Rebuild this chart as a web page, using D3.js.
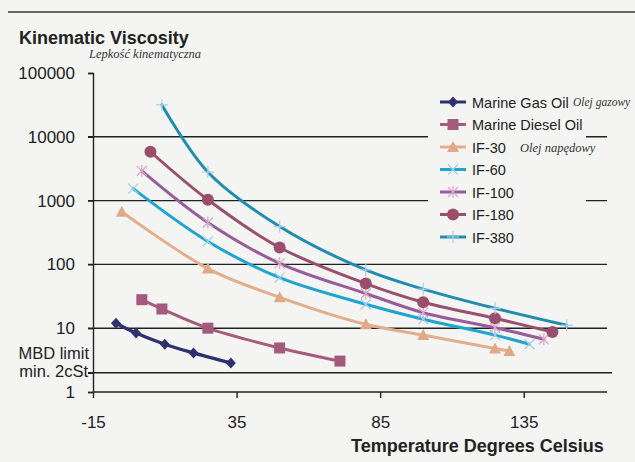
<!DOCTYPE html>
<html><head><meta charset="utf-8">
<script src="https://cdn.jsdelivr.net/npm/d3@7"></script>
<style>
html,body{margin:0;padding:0;background:#f4f5f2;}
svg{display:block;}
text{font-family:"Liberation Sans",Arial,sans-serif;fill:#222;}
.it{font-family:"Liberation Serif","Times New Roman",serif;font-style:italic;fill:#333;}
</style></head>
<body>
<svg id="c" width="635" height="462"></svg>
<script>
// ---- data ----
const seriesNames = ["Marine Gas Oil","Marine Diesel Oil","IF-30","IF-60","IF-100","IF-180","IF-380"];
const mgoX = [-7, 0, 10, 20, 33];
const mgoY = [12, 8.4, 5.6, 4.1, 2.85];
const mdoX = [2, 9, 25, 50, 71];
const mdoY = [28, 20, 10, 4.9, 3.05];
const if30X = [-5, 25, 50, 80, 100, 125, 130];
const if30Y = [670, 86, 30.5, 11.5, 7.8, 4.8, 4.4];
const if60X = [-1, 25, 50, 80, 100, 125, 137];
const if60Y = [1540, 229, 62, 23.7, 13.8, 7.8, 5.6];
const if100X = [2, 25, 50, 80, 100, 125, 142];
const if100Y = [2930, 453, 104, 35, 17.5, 10.2, 6.7];
const if180X = [5, 25, 50, 80, 100, 125, 145];
const if180Y = [5830, 1030, 184, 50, 25.5, 14.3, 8.7];
const if380X = [9, 25, 50, 80, 100, 125, 150];
const if380Y = [31600, 2800, 392, 82, 41, 20.5, 11.1];
const xTicks = [-15, 35, 85, 135];
const yTicks = [1, 10, 100, 1000, 10000, 100000];
const mbdLimit = 2;

const seriesX = [mgoX, mdoX, if30X, if60X, if100X, if180X, if380X];
const seriesY = [mgoY, mdoY, if30Y, if60Y, if100Y, if180Y, if380Y];
const colors = ["#2e3070","#a65a7c","#e2ae8c","#1ea4cf","#985c9c","#98506e","#1f8cb0"];
const markerColors = ["#2e3070","#a45a7c","#e0aa88","#9fd0ea","#d8a6c8","#9a4e6c","#a4d2ea"];
const markerTypes = ["diamond","square","triangle","x","star","circle","plus"];

const svg = d3.select("#c");
const x = d3.scaleLinear().domain([-15, 164]).range([93, 607]);
const y = d3.scaleLog().domain([1, 100000]).range([392, 73]);

// top decorative rule
svg.append("line").attr("x1",8).attr("x2",635).attr("y1",12).attr("y2",12)
  .attr("stroke","#2f3a38").attr("stroke-width",1.6);

// gridlines
const grid = svg.append("g");
[10,100,1000,10000].forEach(v=>{
  grid.append("line").attr("x1",88).attr("x2",607).attr("y1",y(v)).attr("y2",y(v))
    .attr("stroke","#1e2220").attr("stroke-width",1.4);
});
grid.append("line").attr("x1",88).attr("x2",612).attr("y1",y(mbdLimit)).attr("y2",y(mbdLimit))
  .attr("stroke","#1e2220").attr("stroke-width",1.6);
grid.append("line").attr("x1",93).attr("x2",607).attr("y1",y(1)).attr("y2",y(1))
  .attr("stroke","#1e2220").attr("stroke-width",1.4);

// axes
const yAxis = d3.axisLeft(y).tickValues(yTicks.concat([mbdLimit])).tickSize(5).tickPadding(13)
  .tickFormat(d => d === mbdLimit ? "" : String(d));
const gy = svg.append("g").attr("transform","translate(93,0)").call(yAxis);
gy.select(".domain").attr("stroke","#222").attr("stroke-width",1.4);
gy.selectAll(".tick line").attr("stroke","#222").attr("stroke-width",1.4);
gy.selectAll("text").attr("font-size",17).attr("fill","#222")
  .attr("font-family",'"Liberation Sans",Arial,sans-serif');

const xAxis = d3.axisBottom(x).tickValues(xTicks).tickSize(6).tickPadding(18).tickFormat(d=>String(d));
const gx = svg.append("g").attr("transform","translate(0,392)").call(xAxis);
gx.select(".domain").remove();
gx.selectAll(".tick line").attr("stroke","#222").attr("stroke-width",1.4);
gx.selectAll("text").attr("font-size",17).attr("fill","#222")
  .attr("font-family",'"Liberation Sans",Arial,sans-serif');

// MBD label
svg.append("text").attr("x",89).attr("y",y(mbdLimit)-13.5).attr("text-anchor","end")
  .attr("font-size",16.5).text("MBD limit");
svg.append("text").attr("x",88).attr("y",y(mbdLimit)+4).attr("text-anchor","end")
  .attr("font-size",16.5).text("min. 2cSt");

// titles
svg.append("text").attr("x",19).attr("y",44).attr("font-size",18).attr("font-weight","bold")
  .attr("fill","#2a2e33").text("Kinematic Viscosity");
svg.append("text").attr("class","it").attr("x",89).attr("y",58).attr("font-size",12.5)
  .text("Lepkość kinematyczna");
svg.append("text").attr("x",351).attr("y",452).attr("font-size",18).attr("font-weight","bold")
  .attr("fill","#2a2e33").text("Temperature Degrees Celsius");

// marker drawing
function marker(g, type, cx, cy, col){
  const s = 5;
  if(type==="diamond"){
    g.append("path").attr("d",`M${cx},${cy-5.5}L${cx+5},${cy}L${cx},${cy+5.5}L${cx-5},${cy}Z`).attr("fill",col);
  } else if(type==="square"){
    g.append("rect").attr("x",cx-5.5).attr("y",cy-5.5).attr("width",11).attr("height",11).attr("fill",col);
  } else if(type==="triangle"){
    g.append("path").attr("d",`M${cx},${cy-6}L${cx+6},${cy+5}L${cx-6},${cy+5}Z`).attr("fill",col);
  } else if(type==="circle"){
    g.append("circle").attr("cx",cx).attr("cy",cy).attr("r",6).attr("fill",col);
  } else if(type==="x"){
    g.append("path").attr("d",`M${cx-s},${cy-s}L${cx+s},${cy+s}M${cx-s},${cy+s}L${cx+s},${cy-s}`)
      .attr("stroke",col).attr("stroke-width",1.2).attr("fill","none");
  } else if(type==="star"){
    g.append("path").attr("d",`M${cx-s},${cy-s}L${cx+s},${cy+s}M${cx-s},${cy+s}L${cx+s},${cy-s}M${cx},${cy-s-1}L${cx},${cy+s+1}`)
      .attr("stroke",col).attr("stroke-width",1.2).attr("fill","none");
  } else if(type==="plus"){
    g.append("path").attr("d",`M${cx-s-1},${cy}L${cx+s+1},${cy}M${cx},${cy-s-1}L${cx},${cy+s+1}`)
      .attr("stroke",col).attr("stroke-width",1.2).attr("fill","none");
  }
}

// series
const line = d3.line().x(d=>x(d[0])).y(d=>y(d[1])).curve(d3.curveCatmullRom.alpha(0.5));
const order = [2,3,4,5,6,1,0];
order.forEach(i=>{
  const pts = seriesX[i].map((v,k)=>[v, seriesY[i][k]]);
  const g = svg.append("g");
  g.append("path").attr("d", line(pts)).attr("fill","none").attr("stroke",colors[i])
    .attr("stroke-width", i===0 ? 3.4 : 3).attr("stroke-linecap","round").attr("stroke-linejoin","round");
  pts.forEach(p=>marker(g, markerTypes[i], x(p[0]), y(p[1]), markerColors[i]));
});

// legend
const lg = svg.append("g");
lg.append("rect").attr("x",428).attr("y",88).attr("width",158).attr("height",162).attr("fill","#f4f5f2");
seriesNames.forEach((n,i)=>{
  const cy = 102 + i*22.5;
  lg.append("line").attr("x1",440).attr("x2",466).attr("y1",cy).attr("y2",cy)
    .attr("stroke",colors[i]).attr("stroke-width",3);
  marker(lg, markerTypes[i], 453, cy, markerColors[i]);
  lg.append("text").attr("x",472).attr("y",cy+5.5).attr("font-size",14.5).text(n);
});
svg.append("text").attr("class","it").attr("x",573).attr("y",106).attr("font-size",11.5).text("Olej gazowy");
svg.append("text").attr("class","it").attr("x",520).attr("y",152).attr("font-size",12.5).text("Olej napędowy");
</script>
</body></html>
